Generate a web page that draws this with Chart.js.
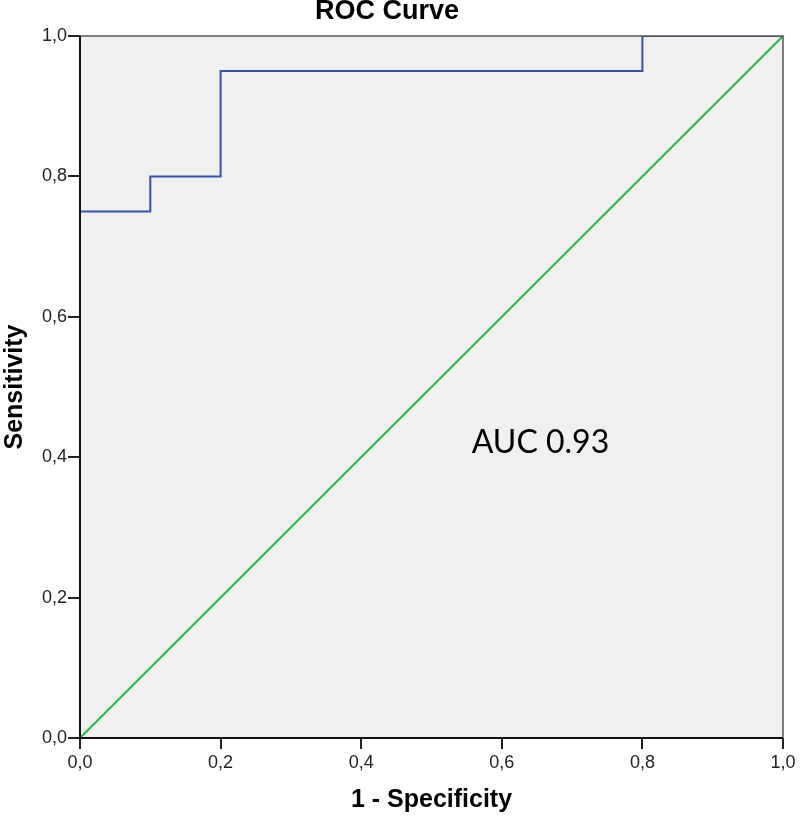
<!DOCTYPE html>
<html>
<head>
<meta charset="utf-8">
<script src="https://cdn.jsdelivr.net/npm/chart.js@4"></script>
<style>
  html, body { margin: 0; padding: 0; background: #fff; }
  #wrap { width: 800px; height: 822px; }
</style>
</head>
<body>
<div id="wrap"><canvas id="roc" width="800" height="822"></canvas></div>
<script>
// ROC curve points (1 - specificity, sensitivity)
const fpr = [0, 0, 0.1, 0.1, 0.2, 0.2, 0.8, 0.8, 1];
const tpr = [0, 0.75, 0.75, 0.8, 0.8, 0.95, 0.95, 1, 1];
// reference diagonal
const refX = [0, 1];
const refY = [0, 1];
const tickValues = [0, 0.2, 0.4, 0.6, 0.8, 1];
const chartTitle = "ROC Curve";
const aucLabel = "AUC 0.93";

const fmt = v => v.toFixed(1).replace(".", ",");
const sans = "'Liberation Sans', Arial, sans-serif";

// grey plot background, box and the text bits
const extras = {
  id: "extras",
  beforeDraw(chart) {
    const { ctx, chartArea: a } = chart;
    ctx.save();
    ctx.fillStyle = "#f0f0f0";
    ctx.fillRect(a.left, a.top, a.right - a.left, a.bottom - a.top);
    ctx.restore();
  },
  afterDraw(chart) {
    const { ctx, chartArea: a, scales } = chart;
    ctx.save();
    ctx.strokeStyle = "#555";
    ctx.lineWidth = 1.5;
    ctx.strokeRect(a.left, a.top, a.right - a.left, a.bottom - a.top);
    ctx.strokeStyle = "#111";
    ctx.lineWidth = 2;
    ctx.beginPath();
    ctx.moveTo(a.left, a.top);
    ctx.lineTo(a.left, a.bottom);
    ctx.lineTo(a.right, a.bottom);
    ctx.stroke();

    ctx.fillStyle = "#000";
    ctx.textAlign = "center";
    ctx.textBaseline = "middle";
    ctx.font = "bold 27px " + sans;
    ctx.fillText(chartTitle, 387, 12);

    ctx.font = "32px Lato, 'Open Sans', sans-serif";
    ctx.fillText(aucLabel, scales.x.getPixelForValue(0.655), scales.y.getPixelForValue(0.42));
    ctx.restore();
  }
};

const ctx = document.getElementById("roc");
const myChart = new Chart(ctx, {
  type: "scatter",
  data: {
    datasets: [
      {
        label: "ROC",
        data: fpr.map((x, i) => ({ x: x, y: tpr[i] })),
        showLine: true,
        borderColor: "#3b53a4",
        borderWidth: 2,
        pointRadius: 0,
        tension: 0,
        fill: false,
      },
      {
        label: "Reference",
        data: refX.map((x, i) => ({ x: x, y: refY[i] })),
        showLine: true,
        borderColor: "#2fb44c",
        borderWidth: 2,
        pointRadius: 0,
        fill: false,
      },
    ],
  },
  options: {
    responsive: false,
    animation: false,
    layout: { padding: { top: 36, right: 17, left: 0, bottom: 0 } },
    plugins: {
      legend: { display: false },
      tooltip: { enabled: false },
    },
    scales: {
      x: {
        type: "linear",
        min: 0,
        max: 1,
        afterBuildTicks: s => { s.ticks = tickValues.map(v => ({ value: v })); },
        afterFit: s => { s.height = 84; },
        border: { display: false },
        grid: { drawOnChartArea: false, drawTicks: true, tickLength: 11, color: "#222", lineWidth: 2 },
        ticks: {
          callback: fmt,
          color: "#222",
          padding: 3,
          maxRotation: 0,
          font: { family: sans, size: 18 },
        },
        title: {
          display: true,
          text: "1 - Specificity",
          color: "#000",
          padding: { top: 0, bottom: 7 },
          font: { family: sans, size: 25, weight: "bold" },
        },
      },
      y: {
        type: "linear",
        min: 0,
        max: 1,
        afterBuildTicks: s => { s.ticks = tickValues.map(v => ({ value: v })); },
        afterFit: s => { s.width = 80; },
        border: { display: false },
        grid: { drawOnChartArea: false, drawTicks: true, tickLength: 12, color: "#222", lineWidth: 2 },
        ticks: {
          callback: fmt,
          color: "#222",
          padding: 1,
          font: { family: sans, size: 18 },
        },
        title: {
          display: true,
          text: "Sensitivity",
          color: "#000",
          padding: { top: 0, bottom: 0 },
          font: { family: sans, size: 25, weight: "bold" },
        },
      },
    },
  },
  plugins: [extras],
});
</script>
</body>
</html>
